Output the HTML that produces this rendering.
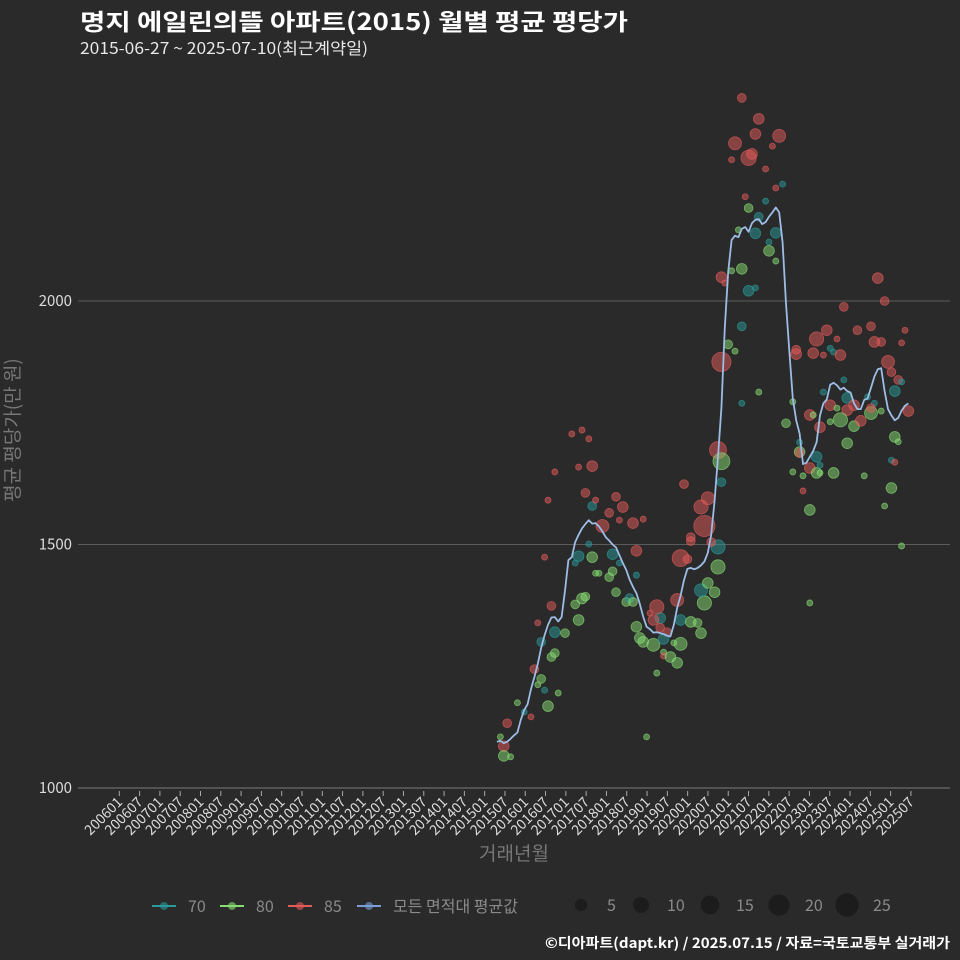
<!DOCTYPE html>
<html><head><meta charset="utf-8">
<style>
body{margin:0;background:#2a2a2a;}
svg{display:block;font-family:"Noto Sans CJK KR","Liberation Sans",sans-serif;}
</style></head>
<body>
<svg id="chart" width="960" height="960" viewBox="0 0 960 960">
<rect x="0" y="0" width="960" height="960" fill="#2a2a2a"/>
<text x="80" y="30" font-size="23" font-weight="bold" fill="#ffffff" textLength="548" lengthAdjust="spacingAndGlyphs">명지 에일린의뜰 아파트(2015) 월별 평균 평당가</text>
<text x="80" y="54" font-size="16" fill="#e8e8e8" textLength="288" lengthAdjust="spacingAndGlyphs">2015-06-27 ~ 2025-07-10(최근계약일)</text>
<g id="grid"></g>
<g id="points"></g>
<g id="line"></g>
<g id="axes"></g>
<text transform="translate(19,430) rotate(-90)" text-anchor="middle" font-size="19" fill="#777">평균 평당가(만 원)</text>
<text x="514" y="860" text-anchor="middle" font-size="19" fill="#777">거래년월</text>
<g id="legend"></g>
<text x="950" y="948" text-anchor="end" font-size="14" font-weight="bold" fill="#ffffff" textLength="405" lengthAdjust="spacingAndGlyphs">©디아파트(dapt.kr) / 2025.07.15 / 자료=국토교통부 실거래가</text>
</svg>
<script>
// monthly average line, starting 201506
const lineValues=[1095,1097,1092,1095,1101,1108,1114,1140,1160,1172,1203,1228,1255,1288,1314,1335,1350,1351,1342,1351,1405,1468,1474,1505,1520,1533,1542,1550,1543,1544,1537,1527,1515,1508,1500,1494,1478,1462,1448,1428,1413,1400,1378,1352,1331,1326,1319,1320,1318,1316,1313,1311,1335,1370,1395,1427,1450,1452,1449,1452,1457,1465,1483,1520,1590,1680,1780,1945,2060,2125,2134,2131,2148,2152,2142,2160,2167,2168,2158,2162,2173,2182,2192,2182,2120,1995,1895,1800,1755,1728,1665,1668,1680,1692,1710,1765,1790,1798,1828,1832,1827,1818,1822,1815,1812,1790,1778,1778,1797,1800,1822,1845,1860,1862,1815,1778,1765,1755,1760,1775,1785,1790];
// scatter points: month index from 201506, value, count, area type
const ptMonth=[3,2,2,4,1,10,6,8,15,18,14,12,13,11,13,16,17,12,17,20,16,24,23,25,26,14,24,23,28,29,30,33,34,34,36,35,27,28,26,29,31,33,35,37,36,40,43,41,41,28,24,17,15,22,25,27,38,39,40,41,42,43,46,48,47,46,45,48,50,49,49,49,51,53,47,44,52,54,53,54,57,59,60,61,60,62,64,65,65,54,56,61,60,62,57,57,63,55,65,66,66,
66,68,70,72,66,67,69,72,74,76,72,77,74,77,76,71,79,80,80,82,82,84,73,82,79,69,74,75,70,76,81,83,77,72,88,88,87,85,89,89,94,92,89,87,90,90,94,95,92,95,92,93,95,94,93,97,96,98,99,101,100,102,106,110,111,113,112,114,115,116,118,120,119,119,117,121,117,118,116,114,116,117,119,96,102,103,98,100,103,105,101,98,105,103,107,110,108,109,111,113,110,99,92];
const ptValue=[1133,1086,1066,1064,1105,1146,1175,1156,1168,1195,1201,1212,1224,1244,1300,1269,1277,1339,1320,1318,1374,1345,1377,1389,1393,1474,1476,1462,1474,1441,1441,1433,1445,1480,1462,1402,1501,1579,1606,1591,1538,1565,1598,1577,1550,1544,1552,1487,1437,1661,1659,1649,1591,1727,1735,1717,1382,1390,1382,1331,1308,1300,1294,1349,1372,1345,1359,1329,1320,1306,1279,1271,1269,1257,1236,1105,1298,1296,1386,1345,1341,1339,1318,1380,1406,1421,1402,1454,1495,1472,1470,1538,1577,1595,1515,1507,1505,1624,1694,1671,1628,
1875,1911,1897,1948,2049,2037,2062,2066,2021,2027,1790,1813,2191,2173,2139,2146,2205,2121,2103,2082,2140,2240,2214,2232,2271,2290,2294,2302,2324,2343,2318,2339,2374,2417,1900,1891,1793,1749,1690,1688,1680,1657,1710,1649,1641,1610,1647,1647,1571,1663,1766,1766,1741,1922,1893,1940,1889,1903,1895,1889,1922,1988,1940,1948,1916,1916,2047,2000,1875,1854,1838,1940,1914,1834,1815,1774,1721,1711,1616,1579,1673,1669,1497,1813,1838,1801,1786,1780,1776,1786,1756,1752,1743,1708,1754,1770,1641,1803,1790,1774,1780,1647,1380];
const ptCount=[3,5,5,1,1,1,1,1,5,1,1,1,3,3,3,3,3,1,5,3,3,5,3,5,3,1,5,1,5,1,1,3,3,5,1,3,1,3,3,1,8,3,3,5,1,5,1,5,1,5,1,1,1,1,1,1,3,3,3,5,5,5,8,5,10,5,1,3,3,5,1,1,5,5,1,1,1,8,8,5,5,3,5,10,8,5,5,10,10,15,3,25,10,8,3,3,3,3,15,15,3,
20,3,1,3,5,1,1,5,5,1,1,1,3,3,5,1,1,1,5,1,5,1,1,1,1,1,12,5,8,5,1,8,5,3,3,5,1,3,5,3,5,5,1,1,1,1,5,1,5,1,5,1,5,10,5,5,1,1,1,5,1,3,3,3,5,3,5,3,8,3,3,1,1,1,5,5,5,1,5,1,1,1,1,1,1,5,5,1,5,5,10,1,5,5,5,8,1,1,1,1,3,5,1];
const ptType=[85,85,80,80,80,85,80,70,80,80,70,80,80,85,70,80,80,85,70,80,85,80,80,80,80,85,70,70,80,80,80,80,80,70,70,80,70,70,85,85,85,85,85,85,85,85,85,85,70,85,85,85,85,85,85,85,80,70,80,80,80,80,80,70,85,85,85,85,85,70,80,85,80,80,80,80,80,80,85,70,80,80,80,80,70,80,80,80,70,85,85,85,85,85,85,85,85,85,85,80,70,
85,80,80,70,85,85,80,80,70,70,70,80,80,70,70,80,70,70,80,80,70,70,85,85,85,85,85,85,85,85,85,85,85,85,85,85,80,80,80,85,70,85,70,80,80,85,80,80,80,70,85,80,85,85,85,85,85,70,70,85,85,85,85,85,85,85,85,85,85,85,85,85,85,70,70,85,80,80,80,80,70,85,80,70,70,70,85,80,85,85,80,80,80,80,85,80,80,70,70,80,85,80,80];
const yTicks=[1000,1500,2000];
const xTickLabels=[];
for(let yr=2006;yr<=2025;yr++){xTickLabels.push(yr+'01');xTickLabels.push(yr+'07');}

const NS='http://www.w3.org/2000/svg';
function mk(tag,attrs,parent){const e=document.createElementNS(NS,tag);for(const k in attrs)e.setAttribute(k,attrs[k]);parent.appendChild(e);return e;}
const PX=3.4;
function xMonth(i){return 497+i*PX;}           // i = months since 201506
function xLabel(lbl){const y=+lbl.slice(0,4),m=+lbl.slice(4);return 119.3+((y-2006)*12+(m-1))*3.383;}
function yScale(v){return 788-(v-1000)*0.487;}
function rScale(n){return 1.1+1.9*Math.sqrt(n);}
const colors={70:'#2a9a9a',80:'#86dc72',85:'#e35a5a'};

const grid=document.getElementById('grid'),axes=document.getElementById('axes');
yTicks.forEach(v=>{
  if(v>1000){const g=mk('line',{x1:78,x2:950,y1:yScale(v),y2:yScale(v),stroke:'#5c5c5c','stroke-width':1},grid);
  
  }
  const t=mk('text',{x:72,y:yScale(v)+5,'text-anchor':'end','font-size':15,fill:'#dcdcdc'},axes);
  t.textContent=v;
  
  
});
const ax=mk('line',{x1:78,x2:950,y1:788,y2:788,stroke:'#6a6a6a','stroke-width':1.2},axes);


xTickLabels.forEach(l=>{
  const x=xLabel(l);
  const tk=mk('line',{x1:x,x2:x,y1:791,y2:796,stroke:'#aaa','stroke-width':1},axes);
  
  
  const t=mk('text',{transform:`translate(${x+4},803) rotate(-45)`,'text-anchor':'end','font-size':14,fill:'#dcdcdc'},axes);
  t.textContent=l;
  
  
});

const pts=document.getElementById('points');
ptMonth.forEach((m,i)=>{
  const c=colors[ptType[i]];
  const p=mk('circle',{cx:xMonth(m),cy:yScale(ptValue[i]),r:rScale(ptCount[i]),fill:c,'fill-opacity':0.5,stroke:c,'stroke-opacity':0.7,'stroke-width':0.8},pts);
  
  
});

const d=lineValues.map((v,i)=>(i?'L':'M')+xMonth(i).toFixed(1)+','+yScale(v).toFixed(1)).join('');
const ln=mk('path',{d:d,fill:'none',stroke:'#9dbde6','stroke-width':1.8,'stroke-linejoin':'round'},document.getElementById('line'));



const lg=document.getElementById('legend');
const legItems=[['70','#2a9a9a',152],['80','#86dc72',220],['85','#e35a5a',288],['모든 면적대 평균값','#7a9fd6',357]];
legItems.forEach(([lbl,c,x])=>{
  const g=mk('g',{},lg);
  
  
  mk('line',{x1:x,x2:x+24,y1:906,y2:906,stroke:c,'stroke-width':2},g);
  mk('circle',{cx:x+12,cy:906,r:4,fill:c,'fill-opacity':0.6},g);
  const t=mk('text',{x:x+36,y:912,'font-size':16,fill:'#8a8a8a'},g);
  t.textContent=lbl;
});
const sizeItems=[[5,581],[10,641],[15,710],[20,779],[25,847]];
sizeItems.forEach(([n,x])=>{
  const g=mk('g',{},lg);
  
  
  mk('circle',{cx:x,cy:905,r:1.6+2*Math.sqrt(n),fill:'#1c1c1c'},g);
  const t=mk('text',{x:x+26,y:911,'font-size':16,fill:'#8a8a8a'},g);
  t.textContent=n;
});
</script>
</body></html>
